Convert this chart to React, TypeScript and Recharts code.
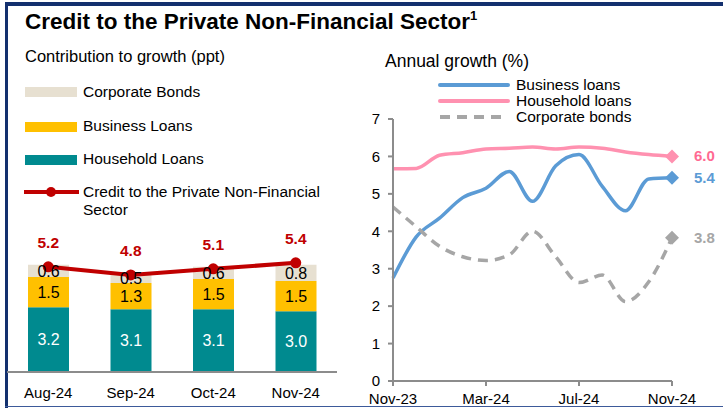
import React from "react";
import { Bar, ComposedChart, Line, LineChart, XAxis, YAxis, LabelList } from "recharts";

// Left panel: contribution to growth (ppt)
const barMonths = ["Aug-24", "Sep-24", "Oct-24", "Nov-24"];
const householdContrib = [3.2, 3.1, 3.1, 3.0];
const businessContrib = [1.5, 1.3, 1.5, 1.5];
const bondsContrib = [0.6, 0.5, 0.6, 0.8];
const totalCredit = [5.2, 4.8, 5.1, 5.4];

// Right panel: annual growth (%)
const lineMonths = [
  "Nov-23", "Dec-23", "Jan-24", "Feb-24", "Mar-24", "Apr-24", "May-24",
  "Jun-24", "Jul-24", "Aug-24", "Sep-24", "Oct-24", "Nov-24",
];
const businessGrowth = [2.75, 3.85, 4.35, 4.9, 5.15, 5.6, 4.8, 5.75, 6.05, 5.2, 4.55, 5.4, 5.43];
const householdGrowth = [5.67, 5.68, 6.03, 6.1, 6.2, 6.22, 6.25, 6.2, 6.25, 6.22, 6.12, 6.05, 6.0];
const bondsGrowth = [4.65, 4.12, 3.6, 3.32, 3.22, 3.37, 4.0, 3.32, 2.63, 2.83, 2.12, 2.65, 3.83];
const growthTicks = [0, 1, 2, 3, 4, 5, 6, 7];

const barData = barMonths.map((m, i) => ({
  month: m,
  household: householdContrib[i],
  business: businessContrib[i],
  bonds: bondsContrib[i],
  total: totalCredit[i],
}));

const lineData = lineMonths.map((m, i) => ({
  month: m,
  business: businessGrowth[i],
  household: householdGrowth[i],
  bonds: bondsGrowth[i],
}));

const FONT = "'Liberation Sans', Arial, sans-serif";
const NAVY = "#13306e";
const TEAL = "#008a8f";
const YELLOW = "#ffc000";
const BEIGE = "#e7e0d1";
const RED = "#c00000";
const BLUE = "#5b9bd5";
const PINK = "#ff91b0";
const PINK_LABEL = "#ff6a92";
const GREY = "#a6a6a6";
const AXIS = "#8c8c8c";
const last = lineMonths.length - 1;

const fmt = (v: any) => Number(v).toFixed(1);

const lastDiamond = (color: string) => (props: any) => {
  const { cx, cy, index } = props;
  if (index !== last) return <g key={`d-${index}`} />;
  const s = 7;
  return (
    <path
      key={`d-${index}`}
      d={`M${cx},${cy - s} L${cx + s},${cy} L${cx},${cy + s} L${cx - s},${cy} Z`}
      fill={color}
    />
  );
};

const lastLabel = (color: string) => (props: any) => {
  const { x, y, index, value } = props;
  if (index !== last) return null;
  return (
    <text x={x + 22} y={y} dy={5} fill={color} fontSize={15} fontWeight="bold" fontFamily={FONT}>
      {fmt(value)}
    </text>
  );
};

const swatch = (top: number, color: string) => (
  <div style={{ position: "absolute", left: 25, top, width: 52, height: 10, background: color }} />
);

const legendText = (top: number, text: string, left = 83) => (
  <div style={{ position: "absolute", left, top, fontSize: 15.5, lineHeight: "18px", color: "#000", whiteSpace: "nowrap" }}>{text}</div>
);

export default function App() {
  return (
    <div
      style={{
        position: "absolute",
        left: 0,
        top: 0,
        width: 723,
        height: 409,
        background: "#fff",
        fontFamily: FONT,
        overflow: "hidden",
      }}
    >
      {/* frame */}
      <div style={{ position: "absolute", left: 5, top: 2, width: 718, height: 4, background: NAVY }} />
      <div style={{ position: "absolute", left: 5, top: 2, width: 3, height: 406, background: NAVY }} />
      <div style={{ position: "absolute", left: 5, top: 406, width: 718, height: 1, background: "#3d5a9a" }} />

      <div style={{ position: "absolute", left: 25, top: 8, fontSize: 22.5, fontWeight: "bold", color: "#000", whiteSpace: "nowrap" }}>
        Credit to the Private Non-Financial Sector<sup style={{ fontSize: 13 }}>1</sup>
      </div>
      <div style={{ position: "absolute", left: 25, top: 47, fontSize: 16.5, color: "#000" }}>
        Contribution to growth (ppt)
      </div>

      {swatch(87, BEIGE)}
      {legendText(83, "Corporate Bonds")}
      {swatch(122, YELLOW)}
      {legendText(117, "Business Loans")}
      {swatch(155, TEAL)}
      {legendText(150, "Household Loans")}
      <svg style={{ position: "absolute", left: 22, top: 184 }} width={60} height={16}>
        <line x1={2} y1={8} x2={57} y2={8} stroke={RED} strokeWidth={4} />
        <circle cx={29} cy={8} r={5} fill={RED} />
      </svg>
      {legendText(183, "Credit to the Private Non-Financial")}
      {legendText(201, "Sector")}

      <div style={{ position: "absolute", left: 7, top: 190 }}>
        <ComposedChart
          width={330}
          height={216}
          data={barData}
          margin={{ top: 0, right: 0, bottom: 0, left: 0 }}
        >
          <XAxis
            dataKey="month"
            height={34}
            axisLine={{ stroke: AXIS, strokeWidth: 2 }}
            tickLine={false}
            tickMargin={9}
            tick={{ fill: "#000", fontSize: 15, fontFamily: FONT }}
          />
          <YAxis hide type="number" domain={[0, 9]} />
          <Bar dataKey="household" stackId="a" fill={TEAL} barSize={41} isAnimationActive={false}>
            <LabelList dataKey="household" position="center" fill="#fff" fontSize={16} formatter={fmt} />
          </Bar>
          <Bar dataKey="business" stackId="a" fill={YELLOW} barSize={41} isAnimationActive={false}>
            <LabelList dataKey="business" position="center" fill="#000" fontSize={16} formatter={fmt} />
          </Bar>
          <Bar dataKey="bonds" stackId="a" fill={BEIGE} barSize={41} isAnimationActive={false}>
            <LabelList dataKey="bonds" position="center" fill="#000" fontSize={16} formatter={fmt} />
          </Bar>
          <Line
            type="linear"
            dataKey="total"
            stroke={RED}
            strokeWidth={4}
            dot={{ r: 5.5, fill: RED, stroke: RED, strokeWidth: 0 }}
            isAnimationActive={false}
          >
            <LabelList
              dataKey="total"
              position="top"
              offset={19}
              fill={RED}
              fontSize={15.5}
              fontWeight="bold"
              formatter={fmt}
            />
          </Line>
        </ComposedChart>
      </div>

      {/* right panel */}
      <div style={{ position: "absolute", left: 385, top: 51, fontSize: 17.5, color: "#000" }}>Annual growth (%)</div>
      <svg style={{ position: "absolute", left: 436, top: 76 }} width={80} height={48}>
        <line x1={4} y1={9} x2={72} y2={9} stroke={BLUE} strokeWidth={4} strokeLinecap="round" />
        <line x1={4} y1={25} x2={72} y2={25} stroke={PINK} strokeWidth={4} strokeLinecap="round" />
        <line x1={4} y1={41} x2={72} y2={41} stroke={GREY} strokeWidth={4} strokeDasharray="10 7" />
      </svg>
      {legendText(76, "Business loans", 516)}
      {legendText(92, "Household loans", 516)}
      {legendText(108, "Corporate bonds", 516)}

      <div style={{ position: "absolute", left: 353, top: 109 }}>
        <LineChart
          width={370}
          height={300}
          data={lineData}
          margin={{ top: 10, right: 51, bottom: 0, left: 0 }}
        >
          <XAxis
            dataKey="month"
            height={28}
            interval={3}
            axisLine={{ stroke: AXIS, strokeWidth: 2 }}
            tickLine={{ stroke: AXIS, strokeWidth: 2 }}
            tickSize={5}
            tickMargin={7}
            tick={{ fill: "#000", fontSize: 15, fontFamily: FONT }}
          />
          <YAxis
            domain={[0, 7]}
            ticks={growthTicks}
            width={40}
            axisLine={{ stroke: AXIS, strokeWidth: 2 }}
            tickLine={{ stroke: AXIS, strokeWidth: 2 }}
            tickSize={5}
            tickMargin={8}
            tick={{ fill: "#000", fontSize: 15, fontFamily: FONT }}
          />
          <Line
            type="monotone"
            dataKey="household"
            stroke={PINK}
            strokeWidth={3.5}
            dot={lastDiamond(PINK)}
            isAnimationActive={false}
          >
            <LabelList dataKey="household" content={lastLabel(PINK_LABEL)} />
          </Line>
          <Line
            type="monotone"
            dataKey="business"
            stroke={BLUE}
            strokeWidth={3.5}
            dot={lastDiamond(BLUE)}
            isAnimationActive={false}
          >
            <LabelList dataKey="business" content={lastLabel(BLUE)} />
          </Line>
          <Line
            type="monotone"
            dataKey="bonds"
            stroke={GREY}
            strokeWidth={3.5}
            strokeDasharray="10 7"
            dot={lastDiamond(GREY)}
            isAnimationActive={false}
          >
            <LabelList dataKey="bonds" content={lastLabel(GREY)} />
          </Line>
        </LineChart>
      </div>
    </div>
  );
}
